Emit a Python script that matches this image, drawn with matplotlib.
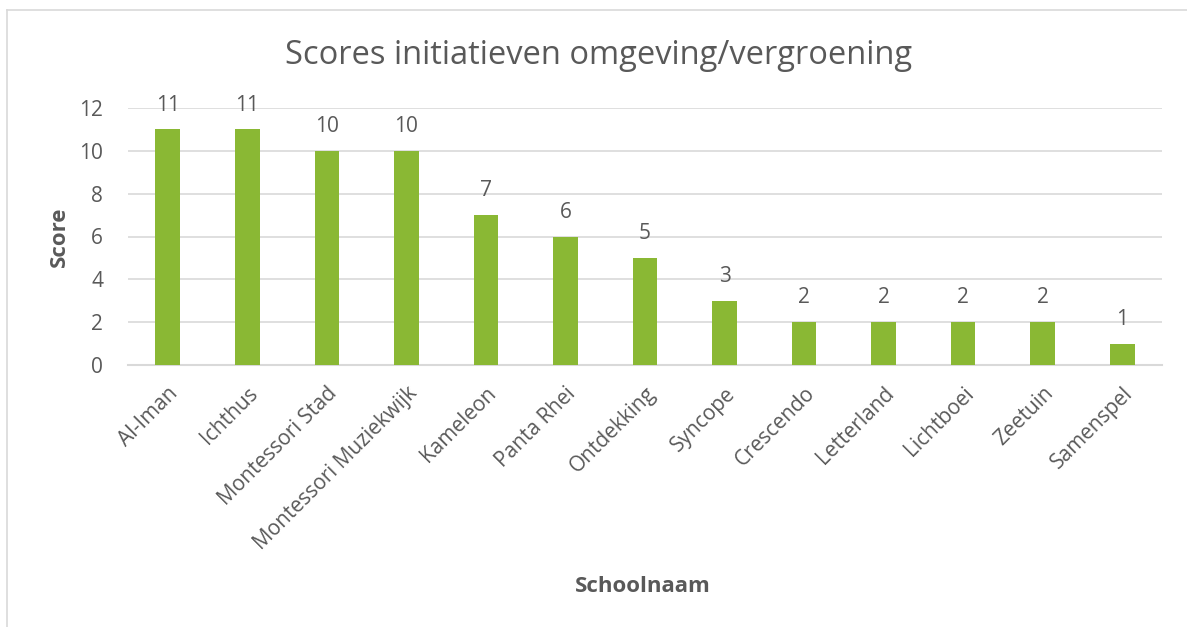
import matplotlib
matplotlib.use("Agg")
import matplotlib.pyplot as plt
from matplotlib.lines import Line2D

schools = ["Al-Iman", "Ichthus", "Montessori Stad", "Montessori Muziekwijk", "Kameleon",
           "Panta Rhei", "Ontdekking", "Syncope", "Crescendo", "Letterland",
           "Lichtboei", "Zeetuin", "Samenspel"]
scores = [11, 11, 10, 10, 7, 6, 5, 3, 2, 2, 2, 2, 1]
yticks = [0, 2, 4, 6, 8, 10, 12]

TXT = "#595959"
GRID = "#D9D9D9"
BAR = "#8AB834"
plt.rcParams['font.family'] = ['Open Sans', 'DejaVu Sans']

W, H = 1187, 627
fig = plt.figure(figsize=(W / 100, H / 100), dpi=100)
ax = fig.add_axes([128 / W, 1 - 365 / H, (1162 - 128) / W, (365 - 108) / H])

x = list(range(len(schools)))
ax.bar(x, scores, width=0.31, color=BAR, zorder=3)
for xi, v in zip(x, scores):
    ax.annotate(str(v), (xi, v), xytext=(0, 10), textcoords="offset points",
                ha="center", va="bottom", fontsize=15, color=TXT)

ax.set_xlim(-0.5, len(schools) - 0.5)
ax.set_ylim(0, 12)
ax.set_yticks(yticks)
ax.set_yticklabels([str(t) for t in yticks], fontsize=15, color=TXT)
ax.set_xticks(x)
ax.set_xticklabels(schools, rotation=45, ha="right", rotation_mode="anchor",
                   fontsize=15, color=TXT)
ax.tick_params(axis="both", length=0)
ax.tick_params(axis="y", pad=18)
ax.tick_params(axis="x", pad=13)
ax.grid(axis="y", color=GRID, linewidth=1.2, zorder=0)
for s in ["top", "right", "left"]:
    ax.spines[s].set_visible(False)
ax.spines["bottom"].set_color(GRID)
ax.spines["bottom"].set_linewidth(1.5)

fig.text(599 / W, 1 - 55 / H, "Scores initiatieven omgeving/vergroening",
         ha="center", va="center", fontsize=23.5, color=TXT)
fig.text(59 / W, 1 - 237 / H, "Score", rotation=90, ha="center", va="center",
         fontsize=16, fontweight="bold", color=TXT)
fig.text(643 / W, 1 - 587 / H, "Schoolnaam", ha="center", va="center",
         fontsize=16, fontweight="bold", color=TXT)

# chart border (left and top visible)
fig.add_artist(Line2D([7 / W, 7 / W], [0, 1 - 10 / H], transform=fig.transFigure,
                      color=GRID, linewidth=1.2))
fig.add_artist(Line2D([7 / W, 1], [1 - 10 / H, 1 - 10 / H], transform=fig.transFigure,
                      color=GRID, linewidth=1.2))

fig.savefig("out.png", dpi=100, facecolor="white")
